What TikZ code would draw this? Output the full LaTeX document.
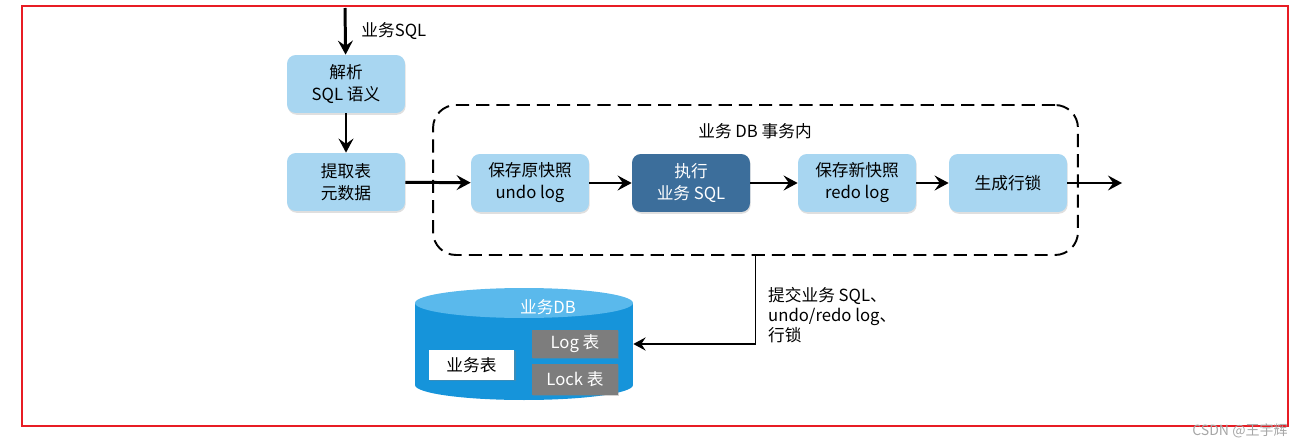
\documentclass[tikz,border=0pt]{standalone}
\usepackage{fontspec}
\setmainfont{Noto Sans CJK SC}
\usepackage{xcolor}
\usepackage{tikz}
\usetikzlibrary{arrows.meta, positioning, shadows}

\definecolor{stageblue}{RGB}{168,214,241}
\definecolor{stagedark}{RGB}{60,110,155}
\definecolor{dbbody}{RGB}{22,148,218}
\definecolor{dbtop}{RGB}{90,185,236}
\definecolor{tablegrey}{RGB}{125,125,125}
\definecolor{framered}{RGB}{232,28,36}

\begin{document}
\begin{tikzpicture}[x=0.02cm, y=-0.02cm,
        stage/.style={rectangle, rounded corners=5pt, fill=stageblue, minimum width=2.36cm, minimum height=1.16cm, inner sep=2pt, align=center, font=\fontsize{9.5}{12.5}\selectfont, drop shadow={shadow xshift=0.4pt, shadow yshift=-1pt, opacity=0.25}},
        tablebox/.style={rectangle, minimum width=1.72cm, minimum height=0.58cm, inner sep=1pt, font=\fontsize{9.5}{11}\selectfont, drop shadow={shadow xshift=0.6pt, shadow yshift=-0.8pt, opacity=0.35}},
        arrow/.style={-{Stealth[length=8pt, width=8.5pt, inset=3pt]}, line width=1.7pt, draw=black},
        label/.style={font=\fontsize{9.5}{11.5}\selectfont, align=left}
    ]
    \useasboundingbox (0,0) rectangle (1304,446);

    % Frame
    \draw[framered, line width=1.3pt] (22,6) rectangle (1288,426);
    \node[font=\fontsize{8}{9}\selectfont, text=black!35] (mark) at (1240,431) {CSDN @王宇辉};

    % Preparation
    \coordinate (in) at (345,8);
    \node[stage] (parse) at (346,84) {解析\\SQL 语义};
    \node[stage] (meta) at (346,182) {提取表\\元数据};

    % Transaction
    \node[rectangle, draw, dashed, dash pattern=on 7.5pt off 4pt, line width=1.1pt, rounded corners=13pt, minimum width=12.9cm, minimum height=3cm] (txn) at (755.5,180) {};
    \node[label] (txntitle) at (755,131) {业务 DB 事务内};

    \node[stage] (undo) at (530,183) {保存原快照\\undo log};
    \node[stage, fill=stagedark, text=white] (exec) at (691,183) {执行\\业务 SQL};
    \node[stage] (redo) at (857,183) {保存新快照\\redo log};
    \node[stage] (rowlock) at (1008,183) {生成行锁};
    \coordinate (out) at (1122,183);

    % Database
    \node[inner sep=0, minimum width=4.36cm, minimum height=2.24cm] (db) at (524,344) {};
    \fill[dbbody] (415,303) rectangle (633,385);
    \fill[dbbody] (524,385) ellipse [x radius=2.18cm, y radius=0.3cm];
    \fill[dbtop] (524,303) ellipse [x radius=2.18cm, y radius=0.3cm];
    \node[font=\fontsize{9.5}{11}\selectfont, text=white] (dbname) at (548,307) {业务DB};
    \node[tablebox, fill=white, minimum height=0.6cm] (biz) at (471.5,365) {业务表};
    \node[tablebox, fill=tablegrey, text=white, minimum height=0.56cm] (logtab) at (575,344) {Log 表};
    \node[tablebox, fill=tablegrey, text=white, minimum height=0.62cm] (locktab) at (575,379.5) {Lock 表};

    % Flow
    \draw[arrow] (in) -- (parse) node[label, midway, right=5pt] (sqllabel) {业务SQL};
    \draw[arrow] (parse) -- (meta);
    \draw[arrow] (meta) -- (undo);
    \draw[arrow] (undo) -- (exec);
    \draw[arrow] (exec) -- (redo);
    \draw[arrow] (redo) -- (rowlock);
    \draw[arrow] (rowlock) -- (out);

    % Commit
    \draw[-{Stealth[length=7pt, width=7.5pt, inset=2.5pt]}, line width=1pt] (txn.south) |- (db.east);
    \node[label, anchor=west] (commit) at (762,315) {提交业务 SQL、\\undo/redo log、\\行锁};

\end{tikzpicture}
\end{document}
